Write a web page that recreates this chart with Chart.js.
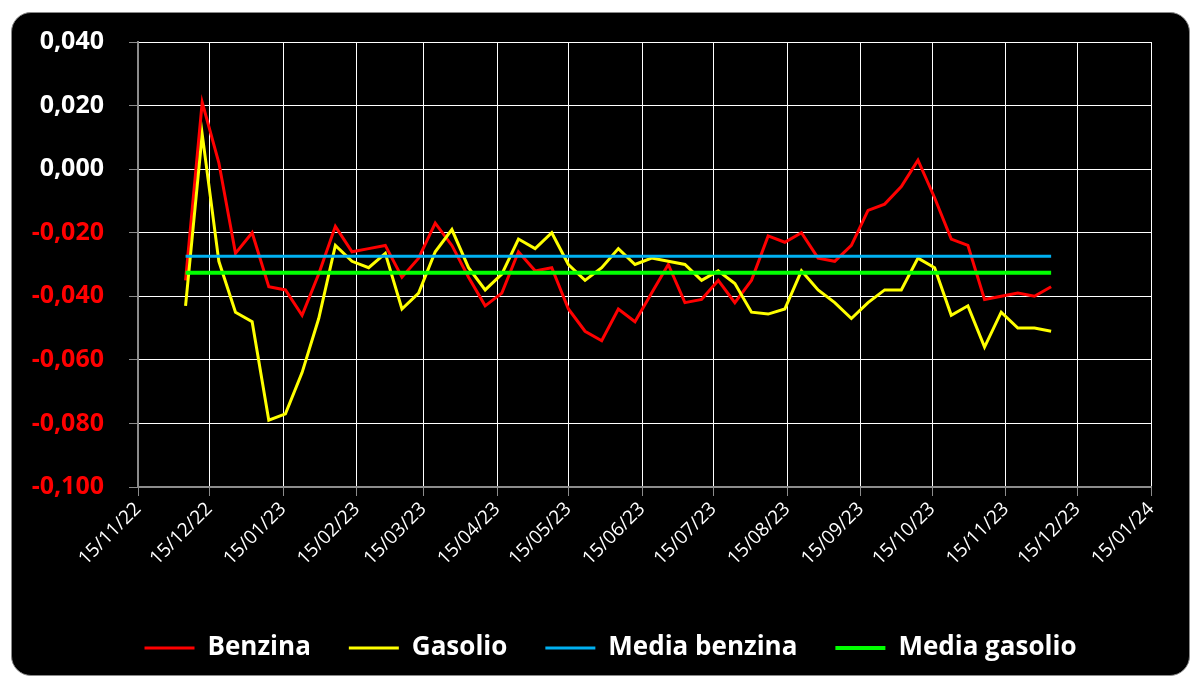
<!DOCTYPE html>
<html>
<head>
<meta charset="utf-8">
<script src="https://cdn.jsdelivr.net/npm/chart.js@4.4.1/dist/chart.umd.min.js"></script>
<style>
  body { margin: 0; background: #ffffff; }
  .box {
    position: absolute; left: 11px; top: 12px;
    width: 1177px; height: 662px;
    background: #000000;
    border: 1px solid #8a8a8a;
    border-radius: 20px;
    overflow: hidden;
  }
  .box canvas { display: block; }
</style>
</head>
<body>
<div class="box"><canvas id="myChart" width="1177" height="662"></canvas></div>
<script>
// weekly survey dates
const dates = [
  '2022-12-05', '2022-12-12', '2022-12-19', '2022-12-26',
  '2023-01-02', '2023-01-09', '2023-01-16', '2023-01-23', '2023-01-30',
  '2023-02-06', '2023-02-13', '2023-02-20', '2023-02-27',
  '2023-03-06', '2023-03-13', '2023-03-20', '2023-03-27',
  '2023-04-03', '2023-04-10', '2023-04-17', '2023-04-24',
  '2023-05-01', '2023-05-08', '2023-05-15', '2023-05-22', '2023-05-29',
  '2023-06-05', '2023-06-12', '2023-06-19', '2023-06-26',
  '2023-07-03', '2023-07-10', '2023-07-17', '2023-07-24', '2023-07-31',
  '2023-08-07', '2023-08-14', '2023-08-21', '2023-08-28',
  '2023-09-04', '2023-09-11', '2023-09-18', '2023-09-25',
  '2023-10-02', '2023-10-09', '2023-10-16', '2023-10-23', '2023-10-30',
  '2023-11-06', '2023-11-13', '2023-11-20', '2023-11-27',
  '2023-12-04'
]

const benzina = [
  -0.035, 0.021, 0.002, -0.0265,
  -0.020, -0.037, -0.038, -0.046, -0.033,
  -0.018, -0.026, -0.025, -0.024,
  -0.034, -0.028, -0.017, -0.024,
  -0.034, -0.043, -0.039, -0.026,
  -0.032, -0.031, -0.044, -0.051, -0.054,
  -0.044, -0.048, -0.039, -0.030,
  -0.042, -0.041, -0.035, -0.042, -0.035,
  -0.021, -0.023, -0.020, -0.028,
  -0.029, -0.024, -0.013, -0.011,
  -0.0055, 0.0028, -0.009, -0.022, -0.024,
  -0.041, -0.040, -0.039, -0.040,
  -0.037
]

const gasolio = [
  -0.043, 0.011, -0.029, -0.045,
  -0.048, -0.079, -0.077, -0.064, -0.047,
  -0.024, -0.029, -0.031, -0.0265,
  -0.044, -0.039, -0.026, -0.019,
  -0.031, -0.038, -0.033, -0.022,
  -0.025, -0.020, -0.030, -0.035, -0.031,
  -0.025, -0.030, -0.028, -0.029,
  -0.030, -0.035, -0.032, -0.036, -0.045,
  -0.0456, -0.044, -0.032, -0.038,
  -0.042, -0.047, -0.042, -0.038,
  -0.038, -0.028, -0.031, -0.046, -0.043,
  -0.056, -0.045, -0.050, -0.050,
  -0.051
]

const mediaBenzina = -0.0274
const mediaGasolio = -0.0326

const tickDates = [
  '2022-11-15', '2022-12-15', '2023-01-15', '2023-02-15', '2023-03-15',
  '2023-04-15', '2023-05-15', '2023-06-15', '2023-07-15', '2023-08-15',
  '2023-09-15', '2023-10-15', '2023-11-15', '2023-12-15', '2024-01-15'
]
const tickLabels = [
  '15/11/22', '15/12/22', '15/01/23', '15/02/23', '15/03/23',
  '15/04/23', '15/05/23', '15/06/23', '15/07/23', '15/08/23',
  '15/09/23', '15/10/23', '15/11/23', '15/12/23', '15/01/24'
]

const yTicks = [-0.100, -0.080, -0.060, -0.040, -0.020, 0.000, 0.020, 0.040]

function dayNum(iso){
    const p = iso.split('-')
    return Date.UTC(+p[0], +p[1] - 1, +p[2]) / 86400000
}

function toPoints(values){
    return values.map((v, i) => ({x: dayNum(dates[i]), y: v}))
}

function flatLine(value){
    return [
        {x: dayNum(dates[0]), y: value},
        {x: dayNum(dates[dates.length - 1]), y: value}
    ]
}

function formatNum(v){
    if(Math.abs(v) < 1e-9) v = 0
    return v.toFixed(3).replace('.', ',')
}

const FONT = "'Open Sans', 'DejaVu Sans', sans-serif"

const data = {
    datasets: [
        {
            label: 'Benzina',
            data: toPoints(benzina),
            borderColor: '#ff0000',
            backgroundColor: '#ff0000',
            borderWidth: 3,
            order: 3
        },
        {
            label: 'Gasolio',
            data: toPoints(gasolio),
            borderColor: '#ffff00',
            backgroundColor: '#ffff00',
            borderWidth: 3,
            order: 2
        },
        {
            label: 'Media benzina',
            data: flatLine(mediaBenzina),
            borderColor: '#00b0f0',
            backgroundColor: '#00b0f0',
            borderWidth: 3,
            order: 1
        },
        {
            label: 'Media gasolio',
            data: flatLine(mediaGasolio),
            borderColor: '#00ff00',
            backgroundColor: '#00ff00',
            borderWidth: 4,
            order: 0
        }
    ]
}

const config = {
    type: 'line',
    data: data,
    options: {
        responsive: false,
        animation: false,
        devicePixelRatio: 1,
        layout: { padding: { left: 20, right: 0, top: 29, bottom: 4 } },
        elements: {
            point: { radius: 0, hoverRadius: 0 },
            line: { tension: 0, borderCapStyle: 'butt', borderJoinStyle: 'miter' }
        },
        scales: {
            x: {
                type: 'linear',
                min: dayNum(tickDates[0]),
                max: dayNum(tickDates[tickDates.length - 1]),
                afterBuildTicks: (scale) => {
                    scale.ticks = tickDates.map(d => ({value: dayNum(d)}))
                },
                afterFit: (scale) => { scale.height = 110 },
                grid: { color: '#ffffff', lineWidth: 1, tickColor: '#8c8c8c', tickLength: 9 },
                border: { color: '#8c8c8c', width: 2 },
                ticks: {
                    autoSkip: false,
                    minRotation: 45,
                    maxRotation: 45,
                    padding: 2,
                    color: '#ffffff',
                    font: { family: FONT, size: 19 },
                    callback: (value, index) => tickLabels[index]
                }
            },
            y: {
                min: yTicks[0],
                max: yTicks[yTicks.length - 1],
                afterBuildTicks: (scale) => {
                    scale.ticks = yTicks.map(v => ({value: v}))
                },
                afterFit: (scale) => {
                    scale.width = 106
                    scale.paddingTop = 0
                    scale.paddingBottom = 0
                },
                grid: { color: '#ffffff', lineWidth: 1, tickColor: '#8c8c8c', tickLength: 9 },
                border: { color: '#8c8c8c', width: 2 },
                ticks: {
                    padding: 25,
                    color: (ctx) => ctx.tick.value < -1e-9 ? '#ff0000' : '#ffffff',
                    font: { family: FONT, size: 25, weight: 'bold' },
                    callback: (value) => formatNum(value)
                }
            },
            spacer: {
                position: 'right',
                min: 0,
                max: 1,
                afterFit: (scale) => {
                    scale.width = 38
                    scale.paddingTop = 0
                    scale.paddingBottom = 0
                },
                grid: { display: false, drawTicks: false },
                border: { display: false },
                ticks: { display: false }
            }
        },
        plugins: {
            tooltip: { enabled: false },
            legend: {
                position: 'bottom',
                labels: {
                    color: '#ffffff',
                    font: { family: FONT, size: 26, weight: 'bold' },
                    usePointStyle: true,
                    pointStyle: 'line',
                    pointStyleWidth: 50,
                    padding: 38,
                    sort: (a, b) => a.datasetIndex - b.datasetIndex
                }
            }
        }
    }
}

const myChart = new Chart(
    document.getElementById('myChart'),
    config
)
</script>
</body>
</html>
